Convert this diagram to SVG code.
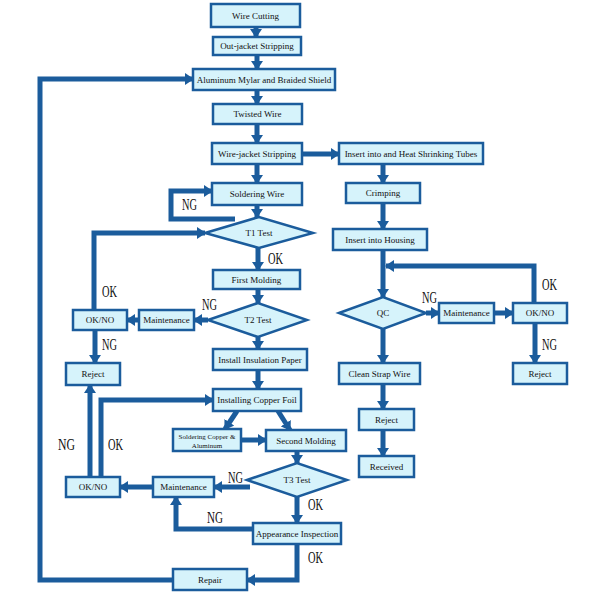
<svg xmlns="http://www.w3.org/2000/svg" width="600" height="600" viewBox="0 0 600 600">
<style>
.b{fill:#d6f3fb;stroke:#1b5c9c;stroke-width:2.5}
.t{font-family:"Liberation Serif",serif;font-size:9px;fill:#111;text-anchor:middle}
.c{fill:none;stroke:#1b5c9c;stroke-width:5;marker-end:url(#ah)}
.n{fill:none;stroke:#1b5c9c;stroke-width:5}
.l{font-family:"Liberation Serif",serif;font-size:17px;fill:#111}
</style>
<defs>
<marker id="ah" markerUnits="userSpaceOnUse" markerWidth="9" markerHeight="12" refX="8" refY="6" orient="auto">
<path d="M0,0 L9,6 L0,12 z" fill="#1b5c9c"/>
</marker>
</defs>
<rect width="600" height="600" fill="#fff"/>
<g id="connectors">
<path class="c" d="M256,27 V37"/>
<path class="c" d="M257,55 V69"/>
<path class="c" d="M257,90 V104"/>
<path class="c" d="M257,124 V143"/>
<path class="c" d="M302,154 H339"/>
<path class="c" d="M257,164 V183"/>
<path class="c" d="M257,205 V217"/>
<path class="c" d="M235,219 H171 V191 H212"/>
<path class="c" d="M258,248 V270"/>
<path class="c" d="M258,289 V303"/>
<path class="c" d="M208,320 H194"/>
<path class="c" d="M139,320 H127"/>
<path class="c" d="M94,310 V233 H205"/>
<path class="c" d="M95,330 V363"/>
<path class="c" d="M258,337 V349"/>
<path class="c" d="M258,370 V389"/>
<path class="c" d="M237,411 L225,429"/>
<path class="c" d="M278,411 L290,430"/>
<path class="c" d="M241,440 H266"/>
<path class="c" d="M297,451 V463"/>
<path class="c" d="M250,487 H214"/>
<path class="c" d="M153,487 H120"/>
<path class="c" d="M90,477 V385"/>
<path class="c" d="M101,477 V400 H213"/>
<path class="c" d="M297,497 V523"/>
<path class="c" d="M253,529 H176 V497"/>
<path class="c" d="M297,544 V580 H247"/>
<path class="c" d="M173,580 H40 V79 H193"/>
<path class="c" d="M383,164 V183"/>
<path class="c" d="M383,203 V229"/>
<path class="c" d="M383,250 V297"/>
<path class="c" d="M426,313 H439"/>
<path class="c" d="M494,313 H513"/>
<path class="c" d="M534,303 V266 H386"/>
<path class="c" d="M535,323 V363"/>
<path class="c" d="M383,329 V363"/>
<path class="c" d="M383,384 V409"/>
<path class="c" d="M383,430 V456"/>
</g>
<g id="labels">
<text class="l" x="182" y="210" textLength="15" lengthAdjust="spacingAndGlyphs">NG</text>
<text class="l" x="268" y="264" textLength="15" lengthAdjust="spacingAndGlyphs">OK</text>
<text class="l" x="102" y="297" textLength="15" lengthAdjust="spacingAndGlyphs">OK</text>
<text class="l" x="202" y="310" textLength="15" lengthAdjust="spacingAndGlyphs">NG</text>
<text class="l" x="102" y="350" textLength="15" lengthAdjust="spacingAndGlyphs">NG</text>
<text class="l" x="422" y="303" textLength="15" lengthAdjust="spacingAndGlyphs">NG</text>
<text class="l" x="542" y="290" textLength="15" lengthAdjust="spacingAndGlyphs">OK</text>
<text class="l" x="542" y="350" textLength="15" lengthAdjust="spacingAndGlyphs">NG</text>
<text class="l" x="58" y="450" textLength="17" lengthAdjust="spacingAndGlyphs">NG</text>
<text class="l" x="108" y="450" textLength="15" lengthAdjust="spacingAndGlyphs">OK</text>
<text class="l" x="228" y="483" textLength="15" lengthAdjust="spacingAndGlyphs">NG</text>
<text class="l" x="308" y="510" textLength="15" lengthAdjust="spacingAndGlyphs">OK</text>
<text class="l" x="207" y="523" textLength="16" lengthAdjust="spacingAndGlyphs">NG</text>
<text class="l" x="308" y="563" textLength="15" lengthAdjust="spacingAndGlyphs">OK</text>
</g>
<g id="wire-cutting"><rect class="b" x="211" y="4" width="89" height="23"/><text class="t" x="255.5" y="18.5">Wire Cutting</text></g>
<g id="out-jacket"><rect class="b" x="213" y="37" width="88" height="18"/><text class="t" x="257" y="49">Out-jacket Stripping</text></g>
<g id="aluminum"><rect class="b" x="193" y="69" width="142" height="21"/><text class="t" x="264" y="82.5">Aluminum Mylar and Braided Shield</text></g>
<g id="twisted"><rect class="b" x="213" y="104" width="89" height="20"/><text class="t" x="257.5" y="117">Twisted Wire</text></g>
<g id="wire-jacket"><rect class="b" x="212" y="143" width="90" height="21"/><text class="t" x="257" y="156.5">Wire-jacket Stripping</text></g>
<g id="heat-shrink"><rect class="b" x="339" y="143" width="144" height="21"/><text class="t" x="411" y="156.5">Insert into and Heat Shrinking Tubes</text></g>
<g id="soldering"><rect class="b" x="212" y="183" width="90" height="22"/><text class="t" x="257" y="197">Soldering Wire</text></g>
<g id="crimping"><rect class="b" x="346" y="183" width="74" height="20"/><text class="t" x="383" y="196">Crimping</text></g>
<g id="t1"><polygon class="b" points="205,233 259,217 313,233 259,248"/><text class="t" x="259" y="236">T1 Test</text></g>
<g id="housing"><rect class="b" x="333" y="229" width="94" height="21"/><text class="t" x="380" y="242.5">Insert into Housing</text></g>
<g id="first-molding"><rect class="b" x="213" y="270" width="87" height="19"/><text class="t" x="256.5" y="283">First Molding</text></g>
<g id="t2"><polygon class="b" points="208,320 258,303 307,320 258,337"/><text class="t" x="258" y="323">T2 Test</text></g>
<g id="maint1"><rect class="b" x="139" y="310" width="55" height="20"/><text class="t" x="166.5" y="323">Maintenance</text></g>
<g id="oknо1"><rect class="b" x="73" y="310" width="54" height="20"/><text class="t" x="100" y="323">OK/NO</text></g>
<g id="qc"><polygon class="b" points="339,313 383,297 426,313 383,329"/><text class="t" x="383" y="316">QC</text></g>
<g id="maint2"><rect class="b" x="439" y="303" width="55" height="20"/><text class="t" x="466.5" y="316">Maintenance</text></g>
<g id="okno2"><rect class="b" x="513" y="303" width="54" height="20"/><text class="t" x="540" y="316">OK/NO</text></g>
<g id="insulation"><rect class="b" x="213" y="349" width="94" height="21"/><text class="t" x="260" y="362.5">Install Insulation Paper</text></g>
<g id="reject1"><rect class="b" x="66" y="363" width="54" height="22"/><text class="t" x="93" y="377">Reject</text></g>
<g id="clean-strap"><rect class="b" x="339" y="363" width="81" height="21"/><text class="t" x="379.5" y="376.5">Clean Strap Wire</text></g>
<g id="reject2"><rect class="b" x="513" y="363" width="54" height="21"/><text class="t" x="540" y="376.5">Reject</text></g>
<g id="copper-foil"><rect class="b" x="213" y="389" width="88" height="22"/><text class="t" x="257" y="403">Installing Copper Foil</text></g>
<g id="reject3"><rect class="b" x="359" y="409" width="55" height="21"/><text class="t" x="386.5" y="422.5">Reject</text></g>
<g id="soldering-cu"><rect class="b" x="173" y="429" width="68" height="22"/><text class="t" x="207" y="438.5" style="font-size:7px">Soldering Copper &amp;</text><text class="t" x="207" y="447.5" style="font-size:7px">Aluminum</text></g>
<g id="second-molding"><rect class="b" x="266" y="430" width="80" height="21"/><text class="t" x="306" y="443.5">Second Molding</text></g>
<g id="received"><rect class="b" x="359" y="456" width="55" height="21"/><text class="t" x="386.5" y="469.5">Received</text></g>
<g id="t3"><polygon class="b" points="247,480 297,463 347,480 297,497"/><text class="t" x="297" y="483">T3 Test</text></g>
<g id="maint3"><rect class="b" x="153" y="477" width="61" height="20"/><text class="t" x="183.5" y="490">Maintenance</text></g>
<g id="okno3"><rect class="b" x="66" y="477" width="54" height="20"/><text class="t" x="93" y="490">OK/NO</text></g>
<g id="appearance"><rect class="b" x="253" y="523" width="88" height="21"/><text class="t" x="297" y="536.5">Appearance Inspection</text></g>
<g id="repair"><rect class="b" x="173" y="569" width="74" height="21"/><text class="t" x="210" y="582.5">Repair</text></g>
</svg>
